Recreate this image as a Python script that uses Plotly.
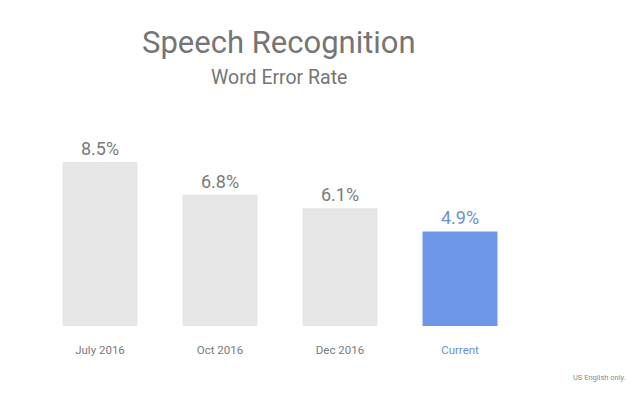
import plotly.graph_objects as go

categories = ["July 2016", "Oct 2016", "Dec 2016", "Current"]
values = [8.5, 6.8, 6.1, 4.9]

bar_colors = ["#e6e6e6", "#e6e6e6", "#e6e6e6", "#6d98ea"]
text_colors = ["#7a7a7a", "#7a7a7a", "#7a7a7a", "#6a8fd8"]
FONT = "Roboto, Open Sans, sans-serif"

fig = go.Figure(go.Bar(
    x=categories,
    y=values,
    marker=dict(color=bar_colors, line=dict(width=0)),
    text=[f"{v}%" for v in values],
    textposition="outside",
    textfont=dict(family=FONT, size=18, color=text_colors),
    cliponaxis=False,
    hoverinfo="skip",
))

fig.update_layout(
    width=640, height=397,
    margin=dict(l=40, r=120, t=133, b=71),
    paper_bgcolor="white", plot_bgcolor="white",
    bargap=0.375,
    showlegend=False,
    font=dict(family=FONT, color="#7a7a7a"),
    xaxis=dict(
        range=[-0.5, 3.5], showgrid=False, zeroline=False, showline=False,
        ticks="", ticklabelstandoff=15,
        tickmode="array", tickvals=categories,
        ticktext=[categories[0], categories[1], categories[2],
                  f"<span style='color:#6a8fd8'>{categories[3]}</span>"],
        tickfont=dict(family=FONT, size=11.5, color="#7a7a7a"),
    ),
    yaxis=dict(range=[0, 10], visible=False),
    annotations=[
        dict(text="Speech Recognition", xref="paper", yref="paper",
             x=0.498, y=1.471, xanchor="center", yanchor="middle",
             showarrow=False, font=dict(family=FONT, size=31, color="#757575")),
        dict(text="Word Error Rate", xref="paper", yref="paper",
             x=0.498, y=1.29, xanchor="center", yanchor="middle",
             showarrow=False, font=dict(family=FONT, size=19.5, color="#757575")),
        dict(text="US English only.", xref="paper", yref="paper",
             x=1.225, y=-0.269, xanchor="right", yanchor="middle",
             showarrow=False, font=dict(family=FONT, size=7.5, color="#8a8a8a")),
    ],
)

fig.write_html("out.html")
